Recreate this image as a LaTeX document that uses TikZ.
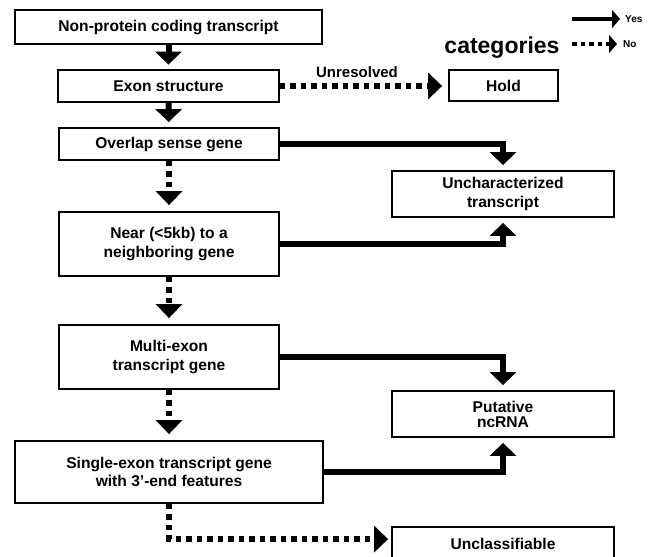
\documentclass[tikz,border=0pt]{standalone}
\usepackage{fontspec}
\setmainfont{Liberation Sans}
\usetikzlibrary{arrows.meta,positioning}

\tikzset{
  box/.style={draw, line width=1.8pt, align=center, inner sep=0pt,
    font=\fontsize{15.6}{18.5}\selectfont\bfseries},
  yes/.style={line width=6pt, -{Triangle[width=26pt,length=13pt]}},
  no/.style={line width=6pt, dash pattern=on 5.5pt off 5pt,
    -{Triangle[width=26pt,length=14pt]}},
}

\begin{document}
\begin{tikzpicture}[x=1pt,y=-1pt]
\useasboundingbox (0,0) rectangle (654,557);
\clip (0,0) rectangle (654,557);

% Main column
\node[box, minimum width=307, minimum height=34] (src) at (168.5,27) {Non-protein coding transcript};
\node[box, minimum width=221, minimum height=32] (exon) at (168.5,86) {Exon structure};
\node[box, minimum width=220, minimum height=32] (overlap) at (169,144) {Overlap sense gene};
\node[box, minimum width=220, minimum height=64] (near) at (169,244) {Near (<5kb) to a\\neighboring gene};
\node[box, minimum width=220, minimum height=64] (multi) at (169,357) {Multi-exon\\transcript gene};
\node[box, minimum width=308, minimum height=62] (single) at (169,472) {Single-exon transcript gene\\with 3’-end features};

% Categories
\node[font=\fontsize{23}{27}\selectfont\bfseries] (cat) at (502,47.5) {categories};
\node[box, minimum width=109, minimum height=31] (hold) at (503.5,85.5) {Hold};
\node[box, minimum width=222, minimum height=46] (unchar) at (503,194) {Uncharacterized\\transcript};
\node[box, minimum width=222, minimum height=46, font=\fontsize{15.6}{15}\selectfont\bfseries] (putative) at (503,414) {Putative\\ncRNA};
\node[box, minimum width=222, minimum height=34] (unclass) at (503,544) {Unclassifiable};
\coordinate (uin) at ([yshift=-13pt]unclass.north west);

% Legend
\node[anchor=west, inner sep=0pt, font=\fontsize{10}{12}\selectfont\bfseries] (yeslbl) at (625,19) {Yes};
\node[anchor=west, inner sep=0pt, font=\fontsize{10}{12}\selectfont\bfseries] (nolbl) at (623,44) {No};
\coordinate (yestail) at (572,19);
\coordinate (notail) at (572,44);
\draw[line width=4pt, -{Triangle[width=18pt,length=8pt]}, shorten >=5pt] (yestail) -- (yeslbl.west);
\draw[line width=4pt, dash pattern=on 4.5pt off 4pt, -{Triangle[width=18pt,length=8pt]}, shorten >=6pt] (notail) -- (nolbl.west);

% Yes connectors
\draw[yes, shorten >=4.5pt] (src) -- (exon);
\draw[yes, shorten >=5pt] (exon) -- (overlap);
\draw[yes, shorten >=5pt] (overlap.east) -| (unchar.north);
\draw[yes, shorten >=5pt] (near.east) -| (unchar.south);
\draw[yes, shorten >=5pt] (multi.east) -| (putative.north);
\draw[yes, shorten >=5pt] (single.east) -| (putative.south);

% No connectors
\draw[no, shorten >=6pt] (exon.east) -- node[above=5pt, inner sep=0pt, xshift=-7pt,
  font=\fontsize{15}{18}\selectfont\bfseries] (unres) {Unresolved} (exon.east -| hold.west);
\draw[no, shorten >=6pt] (overlap) -- (near);
\draw[no, shorten >=6pt] (near) -- (multi);
\draw[no, shorten >=6pt] (multi) -- (single);
\draw[no, shorten >=3pt] (single.south) |- (uin);
\end{tikzpicture}
\end{document}
